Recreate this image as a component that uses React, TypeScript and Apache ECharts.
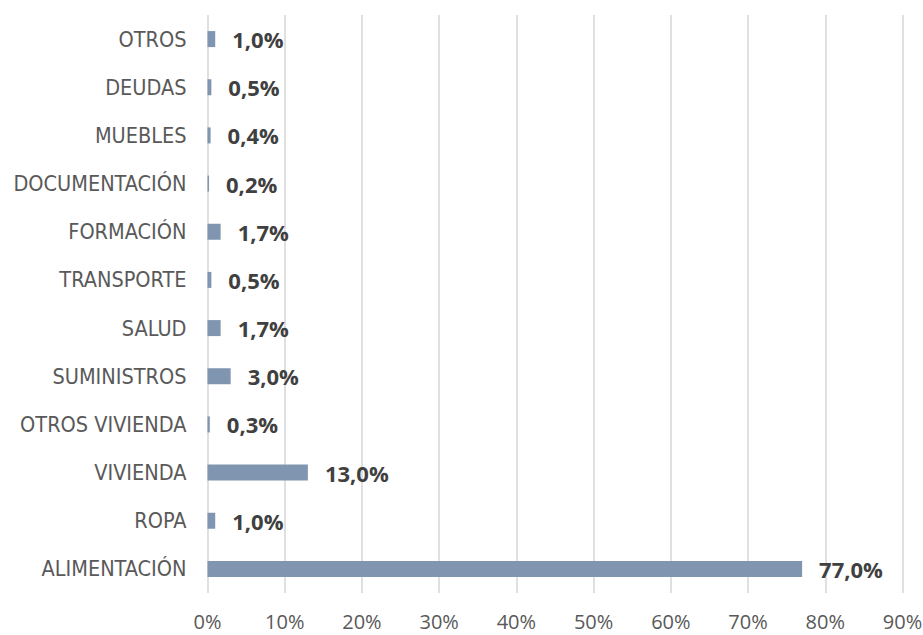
import React, { useEffect, useRef } from "react";
import * as echarts from "echarts";

const categories = [
  "ALIMENTACIÓN",
  "ROPA",
  "VIVIENDA",
  "OTROS VIVIENDA",
  "SUMINISTROS",
  "SALUD",
  "TRANSPORTE",
  "FORMACIÓN",
  "DOCUMENTACIÓN",
  "MUEBLES",
  "DEUDAS",
  "OTROS",
];
const values = [77.0, 1.0, 13.0, 0.3, 3.0, 1.7, 0.5, 1.7, 0.2, 0.4, 0.5, 1.0];
const xMin = 0;
const xMax = 90;
const xInterval = 10;

export default function App() {
  const ref = useRef<HTMLDivElement>(null);
  useEffect(() => {
    document.body.style.margin = "0";
    const chart = echarts.init(ref.current!, undefined, { renderer: "svg" });
    chart.setOption({
      animation: false,
      backgroundColor: "#ffffff",
      grid: {
        left: 207.5,
        right: 20.5,
        top: 15,
        bottom: 42,
        containLabel: false,
        outerBoundsMode: "none",
      },
      xAxis: {
        type: "value",
        min: xMin,
        max: xMax,
        interval: xInterval,
        axisLine: { show: false },
        axisTick: { show: false },
        splitLine: { show: true, lineStyle: { color: "#d9d9d9", width: 1.6 } },
        axisLabel: {
          formatter: "{value}%",
          color: "#595959",
          fontFamily: "Open Sans",
          fontSize: 20,
          margin: 18,
        },
      },
      yAxis: {
        type: "category",
        data: categories,
        axisLine: { show: false },
        axisTick: { show: false },
        splitLine: { show: false },
        axisLabel: {
          color: "#595959",
          fontFamily: "'DejaVu Sans Condensed', 'DejaVu Sans'",
          fontSize: 21.5,
          margin: 21,
        },
      },
      series: [
        {
          type: "bar",
          data: values,
          barWidth: 16,
          itemStyle: { color: "#8096b0" },
          label: {
            show: true,
            position: "right",
            distance: 17,
            color: "#404040",
            fontFamily: "Open Sans",
            fontWeight: "bold",
            fontSize: 22,
            formatter: (p: any) => p.value.toFixed(1).replace(".", ",") + "%",
          },
        },
      ],
    });
    return () => chart.dispose();
  }, []);
  return (
    <div
      ref={ref}
      style={{ position: "fixed", left: 0, top: 0, width: 923, height: 635 }}
    />
  );
}
